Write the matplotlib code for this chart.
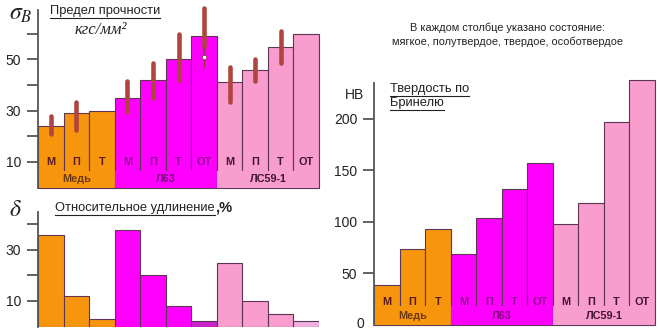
import matplotlib
matplotlib.use('Agg')
import matplotlib.pyplot as plt
from matplotlib.lines import Line2D
from matplotlib.patches import Rectangle

W, H = 660, 331
plt.rcParams['font.family'] = ['Liberation Sans', 'DejaVu Sans']
plt.rcParams['mathtext.fontset'] = 'stix'

# --- data -------------------------------------------------------------
groups = ['Медь', 'Л63', 'ЛС59-1']
group_states = [['М', 'П', 'Т'], ['М', 'П', 'Т', 'ОТ'], ['М', 'П', 'Т', 'ОТ']]

# tensile strength, kgf/mm^2, with scatter ranges
strength = [24, 29, 30, 35, 42, 50, 59, 41, 46, 55, 60]
strength_lo = [21, 22.5, None, 29.5, 35, 42, 55, 33.5, 41.5, 48.5, None]
strength_hi = [28, 33.5, None, 41.5, 48.5, 60, 70, 47, 50, 61, None]
# extra thin tail and mean point for the extra-hard Л63 range
tail_lo, tail_hi, tail_mean = 47, 55, 51

# relative elongation, %
elongation = [36, 12, 3, 38, 20, 8, 2, 25, 10, 5, 2]

# Brinell hardness, HB
hardness = [38, 73, 93, 68, 103, 132, 157, 98, 118, 197, 237]

# --- styling ----------------------------------------------------------
group_colors = ['#f7960c', '#ff00ff', '#f99cce']
letter_colors = ['#5c1a1a', '#8e008e', '#3d1530']
label_colors = ['#6b3a10', '#800080', '#3d1530']
edge = '#5e3555'
axis_col = '#555555'

sizes = [len(s) for s in group_states]
states = [s for g in group_states for s in g]
bar_group = [gi for gi, n in enumerate(sizes) for _ in range(n)]
bar_colors = [group_colors[g] for g in bar_group]
starts = [sum(sizes[:i]) for i in range(len(sizes))]

fig = plt.figure(figsize=(W / 100, H / 100), dpi=100)


def px_axes(x0, y_top, x1, y_bottom):
    return fig.add_axes([x0 / W, 1 - y_bottom / H, (x1 - x0) / W, (y_bottom - y_top) / H])


def fx(x, y):
    return x / W, 1 - y / H


def style_axis(ax, ymax, ticks, labels):
    ax.set_xlim(0, len(states))
    ax.set_ylim(0, ymax)
    for s in ['top', 'right', 'bottom']:
        ax.spines[s].set_visible(False)
    ax.spines['left'].set_color(axis_col)
    ax.spines['left'].set_linewidth(1.3)
    ax.set_xticks([])
    ax.set_yticks(ticks)
    ax.set_yticklabels(labels)
    ax.tick_params(axis='y', direction='out', length=8, width=1.3, color=axis_col,
                   labelsize=10, labelcolor='#222222', pad=4)
    ax.patch.set_alpha(0)


def labelled_bars(ax, values, band_top, letter_y, group_y):
    x = list(range(len(values)))
    ax.bar(x, values, width=1, align='edge', color=bar_colors, edgecolor=edge,
           linewidth=0.8, zorder=2, clip_on=False)
    for gi, (st, n) in enumerate(zip(starts, sizes)):
        ax.add_patch(Rectangle((st + 0.02, 0), n - 0.04, band_top, facecolor=group_colors[gi],
                               edgecolor='none', zorder=3))
        ax.text(st + n / 2, group_y, groups[gi], ha='center', va='center', fontsize=7.8,
                fontweight='bold', color=label_colors[gi], zorder=4)
    for i, s in enumerate(states):
        ax.text(i + 0.5, letter_y, s, ha='center', va='center', fontsize=7.8,
                fontweight='bold', color=letter_colors[bar_group[i]], zorder=4)


# --- tensile strength --------------------------------------------------
ax1 = px_axes(38, 10, 319, 187.5)
style_axis(ax1, 69.3, [10, 20, 30, 40, 50, 60], ['10', '', '30', '', '50', ''])
labelled_bars(ax1, strength, 6.6, 9.8, 3.5)
err_col = '#b0443f'
for i, (lo, hi) in enumerate(zip(strength_lo, strength_hi)):
    if lo is None:
        continue
    ax1.plot([i + 0.5, i + 0.5], [lo, hi], color=err_col, lw=3.3, solid_capstyle='round',
             zorder=5, clip_on=False)
ot = 6
ax1.plot([ot + 0.5, ot + 0.5], [tail_lo, tail_hi], color='#8a3a3a', lw=1.0, zorder=5)
ax1.plot([ot + 0.5], [tail_mean], marker='o', ms=3.2, mfc='white', mec='#8a3a3a', mew=0.6,
         zorder=6)

# --- elongation --------------------------------------------------------
ax2 = px_axes(38, 211.7, 319, 326.5)
style_axis(ax2, 45, [10, 20, 30, 40], ['10', '', '30', ''])
elong_colors = list(bar_colors)
elong_colors[6] = '#cc22cc'
elong_colors[10] = '#efb0e0'
ax2.bar(range(len(elongation)), elongation, width=1, align='edge', color=elong_colors,
        edgecolor=edge, linewidth=0.8, zorder=2)

# --- Brinell hardness ---------------------------------------------------
ax3 = px_axes(374, 83, 655, 324.5)
style_axis(ax3, 234.5, [50, 100, 150, 200], ['50', '100', '150', '200'])
labelled_bars(ax3, hardness, 17.5, 22, 8.5)
fig.text(*fx(364, 324), '0', ha='right', va='center', fontsize=10, color='#222222')

# --- captions ----------------------------------------------------------
fig.text(*fx(21, 14), r'$\sigma_B$', ha='center', va='center', fontsize=17, color='#222222')
fig.text(*fx(15, 210), r'$\delta$', ha='center', va='center', fontsize=17, color='#222222')
fig.text(*fx(355, 95), 'НВ', ha='center', va='center', fontsize=10, color='#222222')
fig.text(*fx(101, 30), 'кгс/мм²', ha='center', va='center', fontsize=12,
         family=['Liberation Serif', 'DejaVu Serif'], style='italic', color='#222222')

underlined = [
    fig.text(*fx(50, 11), 'Предел прочности', ha='left', va='center', fontsize=9.3, color='#222222'),
    fig.text(*fx(55, 208), 'Относительное удлинение', ha='left', va='center', fontsize=9.3,
             color='#222222'),
    fig.text(*fx(390, 89), 'Твердость по', ha='left', va='center', fontsize=9.3, color='#222222'),
    fig.text(*fx(390, 103), 'Бринелю', ha='left', va='center', fontsize=9.3, color='#222222'),
]
fig.text(*fx(215, 208), ',%', ha='left', va='center', fontsize=10.5, fontweight='bold',
         color='#222222')
fig.text(*fx(507, 28), 'В каждом столбце указано состояние:', ha='center', va='center',
         fontsize=7.9, color='#222222')
fig.text(*fx(507, 42), 'мягкое, полутвердое, твердое, особотвердое', ha='center', va='center',
         fontsize=7.9, color='#222222')

fig.canvas.draw()
renderer = fig.canvas.get_renderer()
for t in underlined:
    bb = t.get_window_extent(renderer)
    y = bb.y0 - 1.0
    fig.add_artist(Line2D([bb.x0 / W, bb.x1 / W], [y / H, y / H], color='#222222', lw=0.8))

fig.savefig('out.png', dpi=100)
